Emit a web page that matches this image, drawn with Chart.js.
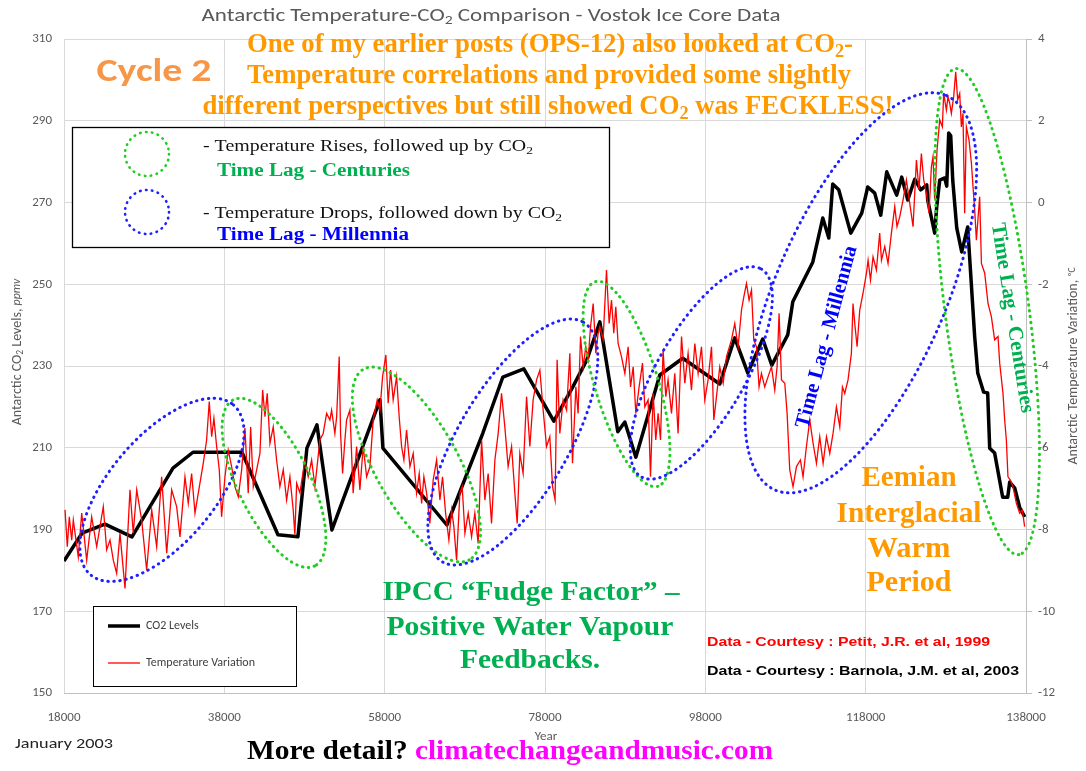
<!DOCTYPE html>
<html lang="en">
<head>
<meta charset="UTF-8">
<title>Antarctic Temperature-CO2 Comparison - Vostok Ice Core Data</title>
<script src="https://cdn.jsdelivr.net/npm/chart.js"></script>
<style>
  html, body { margin: 0; padding: 0; background: #fff; overflow: hidden; }
  canvas { display: block; }
</style>
</head>
<body>
<canvas id="myChart" width="1086" height="771"></canvas>
<script>
// ---- data ----
const yearTicks = [18000, 38000, 58000, 78000, 98000, 118000, 138000];
const co2Ticks = [150, 170, 190, 210, 230, 250, 270, 290, 310];
const tempTicks = [-12, -10, -8, -6, -4, -2, 0, 2, 4];

// CO2 (Barnola et al.)
const co2Years = [18000, 20250, 23110, 26480, 31590, 34090, 40200, 44690, 47180, 48300,
  49550, 51420, 57410, 57780, 65760, 70250, 72740, 75360, 79100, 81470,
  83220, 84840, 87080, 87960, 89330, 92320, 95190, 99800, 101670, 103290,
  105160, 106290, 108280, 108910, 111400, 112650, 113400, 113890, 114640, 116140,
  117510, 118260, 119130, 119880, 120630, 121870, 122500, 123250, 124120, 124870,
  125620, 125740, 126610, 126860, 127240, 127860, 128110, 128360, 128610, 128860,
  129360, 129980, 130730, 131600, 131980, 132720, 133220, 133470, 134090, 134470,
  135090, 135720, 135970, 136600, 137230, 137850];
const co2Values = [182.3, 189.1, 191.3, 188.2, 205.0, 208.9, 208.9, 188.7, 188.2, 209.9,
  215.6, 189.9, 221.7, 209.9, 191.1, 213.6, 227.3, 229.3, 216.5, 224.9,
  231.5, 240.8, 213.9, 216.3, 207.7, 227.8, 231.9, 225.6, 236.9, 228.3,
  236.6, 230.2, 237.6, 245.7, 255.4, 266.2, 261.3, 274.5, 273.1, 262.5,
  267.4, 273.8, 272.3, 266.9, 277.5, 271.8, 276.2, 270.6, 275.7, 273.1,
  274.3, 270.6, 262.5, 268.9, 275.5, 276.0, 274.0, 287.0, 286.3, 275.5,
  263.8, 257.9, 264.0, 237.1, 228.3, 223.6, 223.4, 209.9, 208.7, 204.6,
  197.9, 197.9, 201.6, 200.1, 195.3, 193.1];

// Temperature variation (Petit et al.)
const tempYears = [18130, 18410, 18660, 18960, 19160, 19780, 20210, 20830, 21450, 22080,
  22900, 23320, 23740, 24150, 24570, 24980, 25610, 26230, 26640, 27070,
  27690, 28310, 28940, 29560, 30180, 30810, 31430, 32050, 32470, 33090,
  33500, 33920, 34340, 34750, 35370, 35790, 36120, 36420, 36700, 37040,
  37370, 37660, 38080, 38490, 38910, 39320, 39740, 40160, 40570, 40980,
  41280, 41610, 42030, 42440, 42780, 43070, 43350, 43690, 44100, 44520,
  44930, 45350, 45770, 46180, 46590, 46800, 47020, 47430, 48050, 48460,
  48890, 49300, 49920, 50330, 50760, 51170, 51380, 51790, 52010, 52330,
  52500, 52750, 53040, 53250, 53660, 54070, 54500, 54910, 55320, 55750,
  56160, 56570, 57070, 57410, 57740, 58150, 58440, 58740, 59060, 59490,
  59810, 60110, 60400, 60730, 61150, 61560, 61980, 62310, 62610, 62890,
  63230, 63640, 64050, 64480, 64890, 65220, 65600, 66010, 66350, 66630,
  66970, 67380, 67670, 68010, 68420, 68840, 69250, 69660, 70090, 70500,
  70910, 71330, 71750, 72160, 72580, 72990, 73400, 73830, 74240, 74530,
  74860, 75270, 75700, 76110, 76520, 76950, 77360, 77770, 78190, 78600,
  78940, 79260, 79510, 79850, 80260, 80690, 81100, 81430, 81850, 82130,
  82430, 82760, 83090, 83380, 83680, 84010, 84340, 84630, 84840, 85250,
  85670, 86000, 86300, 86580, 86830, 87120, 87540, 87960, 88370, 88670,
  89000, 89330, 89740, 90160, 90450, 90860, 91160, 91490, 91820, 92110,
  92410, 92730, 93070, 93350, 93780, 94190, 94600, 95030, 95440, 95850,
  96270, 96690, 97100, 97520, 97930, 98340, 98770, 99060, 99390, 99800,
  100220, 100640, 101260, 101670, 102090, 102510, 102800, 103130, 103460, 103760,
  104040, 104380, 104700, 105000, 105410, 105830, 106250, 106660, 106950, 107200,
  107500, 107910, 108200, 108530, 108940, 109370, 109860, 110190, 110610, 111030,
  111440, 111860, 112270, 112690, 113110, 113520, 113930, 114350, 114770, 115100,
  115390, 115800, 116220, 116420, 116640, 116930, 117260, 117670, 118100, 118300,
  118600, 118920, 119340, 119750, 119970, 120380, 120790, 121210, 121630, 121910,
  122250, 122660, 123080, 123500, 123910, 124330, 124650, 124950, 125240, 125580,
  125900, 126200, 126400, 126610, 126900, 127240, 127570, 127730, 128070, 128270,
  128480, 128690, 128980, 129230, 129480, 129730, 129940, 130140, 130350, 130560,
  130890, 131190, 131390, 131600, 131810, 132220, 132440, 132850, 133260, 133680,
  134090, 134510, 134720, 135130, 135340, 135550, 135750, 136050, 136370, 136800,
  137210, 137540, 137830];
const tempValues = [-7.52, -8.42, -7.69, -8.26, -7.77, -8.67, -7.60, -8.75, -7.69, -8.42,
  -7.44, -8.50, -8.26, -8.75, -9.07, -8.09, -9.44, -7.03, -8.09, -7.03,
  -7.77, -8.99, -7.52, -8.42, -6.71, -8.58, -7.03, -7.44, -8.18, -6.71,
  -7.36, -6.63, -7.60, -7.11, -6.38, -5.81, -4.87, -5.73, -5.28, -5.97,
  -6.54, -7.69, -6.71, -6.06, -6.46, -6.95, -7.20, -6.54, -5.52, -7.11,
  -5.49, -6.95, -6.54, -6.14, -4.59, -5.24, -4.67, -5.89, -5.49, -6.30,
  -6.95, -6.54, -7.28, -6.71, -7.52, -8.13, -6.87, -7.10, -6.30, -6.71,
  -6.30, -6.95, -5.81, -5.65, -5.16, -5.32, -5.08, -5.65, -5.24, -3.77,
  -5.65, -6.63, -5.81, -5.32, -5.08, -7.11, -5.97, -7.03, -5.97, -6.71,
  -6.46, -5.32, -4.83, -5.08, -4.26, -3.73, -4.91, -4.10, -4.83, -4.26,
  -5.24, -5.97, -6.30, -5.57, -6.46, -6.14, -7.11, -6.63, -7.36, -6.71,
  -7.11, -7.85, -6.79, -6.30, -7.28, -6.71, -7.60, -8.26, -7.52, -7.93,
  -8.75, -7.11, -6.95, -8.09, -7.60, -8.18, -7.60, -8.34, -5.81, -7.28,
  -6.63, -7.85, -6.30, -5.65, -4.67, -5.49, -6.46, -5.97, -7.11, -7.85,
  -6.14, -6.63, -4.75, -5.97, -4.83, -4.34, -4.10, -5.08, -5.97, -5.73,
  -6.95, -7.28, -3.85, -5.65, -4.83, -5.08, -3.69, -6.38, -4.51, -5.16,
  -3.28, -4.02, -3.53, -3.85, -3.04, -2.47, -3.69, -3.20, -3.04, -3.36,
  -1.65, -2.96, -2.39, -3.20, -2.55, -3.45, -3.77, -4.18, -3.53, -4.51,
  -4.02, -5.16, -4.51, -3.93, -5.00, -4.83, -6.71, -4.67, -5.81, -5.16,
  -5.81, -3.61, -4.75, -4.34, -5.16, -4.18, -5.65, -3.28, -4.42, -3.69,
  -4.59, -3.45, -4.18, -3.53, -4.83, -4.34, -3.53, -5.32, -4.75, -4.02,
  -4.42, -3.77, -3.36, -2.96, -3.53, -2.63, -2.31, -1.98, -2.39, -2.14,
  -3.36, -3.53, -4.51, -4.18, -4.51, -4.26, -4.02, -4.59, -4.02, -2.71,
  -4.34, -4.42, -5.16, -6.54, -6.95, -6.46, -6.30, -6.71, -5.97, -5.32,
  -5.89, -6.38, -5.73, -6.38, -5.73, -6.14, -5.65, -5.00, -5.49, -4.51,
  -4.67, -4.34, -3.69, -2.47, -2.96, -3.53, -2.63, -2.22, -1.73, -1.41,
  -1.90, -1.33, -1.65, -0.75, -1.41, -1.08, -1.49, -0.75, -0.10, -0.59,
  -0.35, 0.06, 0.55, -0.02, -0.59, 1.04, 0.31, 1.20, 0.55, 0.22,
  -0.26, 0.88, 1.12, 0.06, 1.28, 2.02, 1.85, 2.67, 2.26, 2.59,
  2.43, 2.18, 2.59, 3.20, 2.51, 2.67, 1.85, 2.18, -0.26, 1.85,
  1.53, 0.96, 0.39, -0.18, -0.92, 0.14, -1.49, -1.73, -2.47, -2.79,
  -3.36, -3.28, -3.93, -4.67, -5.32, -5.81, -6.71, -6.79, -6.95, -7.36,
  -7.60, -7.52, -7.93];

// ---- styling ----
const SERIF = '"Liberation Serif", "Times New Roman", serif';
const SANS = '"Liberation Sans", Arial, sans-serif';
const CAL = 'Carlito, Lato, "Open Sans", sans-serif';
const ORANGE = '#ff9900';
const GREEN = '#00b050';
const BLUE = '#0000ff';
const DOT_GREEN = '#22cc22';
const DOT_BLUE = '#1f1fff';
const GREY = '#595959';

// dotted ellipses, centred in data units (year, ppmv), radii in px, tilt in degrees
const ellipses = [
  { year: 30220, co2: 199.7, rx: 111, ry: 53, rot: -50, color: DOT_BLUE },
  { year: 44190, co2: 201.4, rx: 92.5, ry: 36, rot: 64, color: DOT_GREEN },
  { year: 61960, co2: 205.9, rx: 109, ry: 41.5, rot: 61, color: DOT_GREEN },
  { year: 73990, co2: 211.4, rx: 139, ry: 55, rot: -59.5, color: DOT_BLUE },
  { year: 88170, co2: 225.6, rx: 107, ry: 31.5, rot: 73, color: DOT_GREEN },
  { year: 97500, co2: 228.3, rx: 120, ry: 44, rot: -60, color: DOT_BLUE },
  { year: 117390, co2: 247.9, rx: 215, ry: 85, rot: -66.5, color: DOT_BLUE },
  { year: 133160, co2: 243.3, rx: 245, ry: 42, rot: 82.6, color: DOT_GREEN }
];

const notes = [
  { parts: [['Antarctic Temperature-CO'], ['2', 'sub'], [' Comparison - Vostok Ice Core Data']], x: 491, y: 16, w: 579, size: 19, family: CAL, weight: '300', color: GREY },
  { parts: [['One of my earlier posts (OPS-12) also looked at CO'], ['2', 'sub'], ['-']], x: 550, y: 45, w: 606, size: 27, family: SERIF, weight: 'bold', color: ORANGE },
  { parts: [['Temperature correlations and provided some slightly']], x: 549, y: 76, w: 604, size: 27, family: SERIF, weight: 'bold', color: ORANGE },
  { parts: [['different perspectives but still showed CO'], ['2', 'sub'], [' was FECKLESS!']], x: 548, y: 107, w: 691, size: 27, family: SERIF, weight: 'bold', color: ORANGE },
  { parts: [['Cycle 2']], x: 154, y: 73, w: 115, size: 32, family: CAL, weight: 'bold', color: '#f79646' },

  { parts: [['- Temperature Rises, followed up by CO'], ['2', 'sub']], x: 203, y: 147, w: 330, align: 'left', size: 16, family: SERIF, color: '#111' },
  { parts: [['Time Lag - Centuries']], x: 217, y: 171, w: 193, align: 'left', size: 18, family: SERIF, weight: 'bold', color: GREEN },
  { parts: [['- Temperature Drops, followed down by CO'], ['2', 'sub']], x: 203, y: 214, w: 359, align: 'left', size: 16, family: SERIF, color: '#111' },
  { parts: [['Time Lag - Millennia']], x: 217, y: 235, w: 192, align: 'left', size: 18, family: SERIF, weight: 'bold', color: BLUE },

  { parts: [['Time Lag - Millennia']], x: 827, y: 337, w: 188, rot: -74.9, size: 21, family: SERIF, weight: 'bold', color: BLUE },
  { parts: [['Time Lag - Centuries']], x: 1012, y: 318, w: 192, rot: 81, size: 21, family: SERIF, weight: 'bold', color: GREEN },

  { parts: [['IPCC \u201cFudge Factor\u201d \u2013']], x: 531, y: 593, w: 297, size: 27, family: SERIF, weight: 'bold', color: GREEN },
  { parts: [['Positive Water Vapour']], x: 530, y: 628, w: 287, size: 27, family: SERIF, weight: 'bold', color: GREEN },
  { parts: [['Feedbacks.']], x: 530, y: 661, w: 140, size: 27, family: SERIF, weight: 'bold', color: GREEN },

  { parts: [['Eemian']], x: 909, y: 478, w: 95, size: 30, family: SERIF, weight: 'bold', color: ORANGE },
  { parts: [['Interglacial']], x: 909, y: 514, w: 145, size: 30, family: SERIF, weight: 'bold', color: ORANGE },
  { parts: [['Warm']], x: 909, y: 549, w: 83, size: 30, family: SERIF, weight: 'bold', color: ORANGE },
  { parts: [['Period']], x: 909, y: 583, w: 85, size: 30, family: SERIF, weight: 'bold', color: ORANGE },

  { parts: [['Data - Courtesy : Petit, J.R. et al, 1999']], x: 707, y: 642, w: 283, align: 'left', size: 13, family: SANS, weight: 'bold', color: '#ff0000' },
  { parts: [['Data - Courtesy : Barnola, J.M. et al, 2003']], x: 707, y: 671, w: 312, align: 'left', size: 13, family: SANS, weight: 'bold', color: '#000' },

  { parts: [['CO2 Levels']], x: 146, y: 626, align: 'left', size: 12, family: CAL, color: '#404040' },
  { parts: [['Temperature Variation']], x: 146, y: 663, align: 'left', size: 12, family: CAL, color: '#404040' },

  { parts: [['January 2003']], x: 15, y: 744, w: 98, align: 'left', size: 15, family: CAL, color: '#222' },
  { parts: [['More detail? ']], x: 247, y: 752, w: 168, align: 'left', size: 28, family: SERIF, weight: 'bold', color: '#000' },
  { parts: [['climatechangeandmusic.com']], x: 415, y: 752, w: 358, align: 'left', size: 28, family: SERIF, weight: 'bold', color: '#ff00ff' },

  { parts: [['Year']], x: 546, y: 737, size: 13, family: CAL, color: GREY },
  { parts: [['Antarctic CO'], ['2', 'sub'], [' Levels, '], ['ppmv', 'it']], x: 17, y: 352, rot: -90, size: 14, family: CAL, color: GREY },
  { parts: [['Antarctic Temperature Variation, '], ['\u00baC', 'small']], x: 1073, y: 366, rot: -90, size: 14, family: CAL, color: GREY }
];

function drawRich(ctx, n) {
  const fontFor = (k) => {
    const s = (k === 'sub' || k === 'small') ? n.size * 0.68 : (k === 'it' ? n.size * 0.85 : n.size);
    return (k === 'it' ? 'italic ' : '') + (n.weight || 'normal') + ' ' + s + 'px ' + n.family;
  };
  let w = 0;
  n.parts.forEach(p => { ctx.font = fontFor(p[1]); w += ctx.measureText(p[0]).width; });
  const sx = n.w ? n.w / w : 1;
  ctx.save();
  ctx.translate(n.x, n.y);
  if (n.rot) ctx.rotate(n.rot * Math.PI / 180);
  ctx.scale(sx, 1);
  ctx.fillStyle = n.color;
  ctx.textBaseline = 'middle';
  ctx.textAlign = 'left';
  let cx = n.align === 'left' ? 0 : -w / 2;
  n.parts.forEach(p => {
    ctx.font = fontFor(p[1]);
    const dy = p[1] === 'sub' ? n.size * 0.26 : (p[1] === 'small' ? -n.size * 0.05 : 0);
    ctx.fillText(p[0], cx, dy);
    cx += ctx.measureText(p[0]).width;
  });
  ctx.restore();
}

function dotted(ctx, color, width) {
  ctx.strokeStyle = color;
  ctx.lineWidth = width;
  ctx.lineCap = 'round';
  ctx.setLineDash([0.5, 5.5]);
}

const overlay = {
  id: 'overlay',
  afterDatasetsDraw(chart) {
    const { ctx, scales } = chart;
    ellipses.forEach(e => {
      ctx.save();
      dotted(ctx, e.color, 3);
      ctx.beginPath();
      ctx.ellipse(scales.x.getPixelForValue(e.year), scales.y.getPixelForValue(e.co2),
        e.rx, e.ry, e.rot * Math.PI / 180, 0, Math.PI * 2);
      ctx.stroke();
      ctx.restore();
    });
  },
  afterDraw(chart) {
    const ctx = chart.ctx;
    ctx.save();
    // key box, top left
    ctx.fillStyle = '#fff';
    ctx.fillRect(72, 127, 537, 120);
    ctx.strokeStyle = '#000';
    ctx.lineWidth = 1.3;
    ctx.strokeRect(72.5, 127.5, 537, 120);
    // legend box, bottom left
    ctx.fillRect(93, 606, 203, 80);
    ctx.lineWidth = 1;
    ctx.strokeRect(93.5, 606.5, 203, 80);
    ctx.beginPath();
    ctx.moveTo(108, 626); ctx.lineTo(140, 626);
    ctx.lineWidth = 3.5; ctx.strokeStyle = '#000'; ctx.stroke();
    ctx.beginPath();
    ctx.moveTo(108, 663); ctx.lineTo(140, 663);
    ctx.lineWidth = 1.3; ctx.strokeStyle = '#ff0000'; ctx.stroke();
    // key circles
    ctx.save();
    dotted(ctx, DOT_GREEN, 2.6);
    ctx.beginPath(); ctx.arc(147, 154, 22, 0, Math.PI * 2); ctx.stroke();
    dotted(ctx, DOT_BLUE, 2.6);
    ctx.beginPath(); ctx.arc(147, 212, 22, 0, Math.PI * 2); ctx.stroke();
    ctx.restore();
    ctx.restore();
    notes.forEach(n => drawRich(ctx, n));
  }
};

const tickFont = { family: CAL, size: 13 };

const ctx = document.getElementById('myChart');
new Chart(ctx, {
  type: 'line',
  data: {
    datasets: [{
      label: 'Temperature Variation',
      data: tempYears.map((x, i) => ({ x: x, y: tempValues[i] })),
      yAxisID: 'y1',
      borderColor: '#ff0000',
      borderWidth: 1.3,
      pointRadius: 0,
      tension: 0,
      order: 0
    }, {
      label: 'CO2 Levels',
      data: co2Years.map((x, i) => ({ x: x, y: co2Values[i] })),
      yAxisID: 'y',
      borderColor: '#000',
      borderWidth: 3.5,
      borderJoinStyle: 'round',
      pointRadius: 0,
      tension: 0,
      order: 1
    }]
  },
  options: {
    responsive: false,
    animation: false,
    devicePixelRatio: 1,
    events: [],
    layout: { padding: { top: 39, left: 0, right: 0, bottom: 0 } },
    plugins: {
      legend: { display: false },
      title: { display: false },
      tooltip: { enabled: false }
    },
    scales: {
      x: {
        type: 'linear',
        min: 18000,
        max: 138000,
        afterBuildTicks: s => { s.ticks = yearTicks.map(v => ({ value: v })); },
        afterFit: s => { s.height = 78; },
        grid: { color: '#d9d9d9', drawTicks: false },
        border: { color: '#bfbfbf' },
        ticks: { color: GREY, font: tickFont, padding: 17, maxRotation: 0, autoSkip: false, callback: v => String(v) }
      },
      y: {
        position: 'left',
        min: 150,
        max: 310,
        afterBuildTicks: s => { s.ticks = co2Ticks.map(v => ({ value: v })); },
        afterFit: s => { s.width = 64; },
        grid: { color: '#d9d9d9', drawTicks: false },
        border: { display: false },
        ticks: { color: GREY, font: tickFont, padding: 12 }
      },
      y1: {
        position: 'right',
        min: -12,
        max: 4,
        afterBuildTicks: s => { s.ticks = tempTicks.map(v => ({ value: v })); },
        afterFit: s => { s.width = 60; },
        grid: { drawOnChartArea: false, color: '#bfbfbf', tickLength: 6 },
        border: { color: '#bfbfbf' },
        ticks: { color: GREY, font: tickFont, padding: 6 }
      }
    }
  },
  plugins: [overlay]
});
</script>
</body>
</html>
